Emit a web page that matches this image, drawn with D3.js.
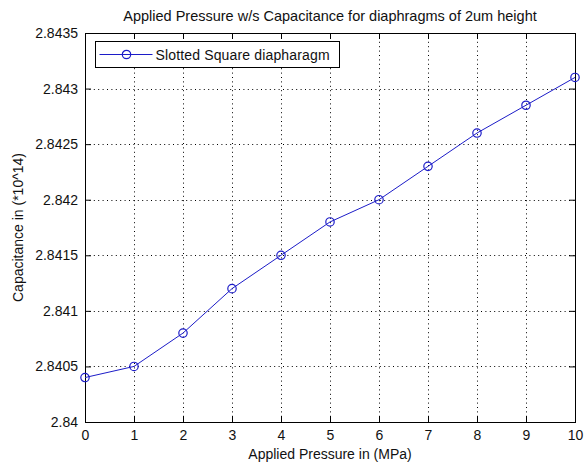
<!DOCTYPE html>
<html>
<head>
<meta charset="utf-8">
<script src="https://cdn.jsdelivr.net/npm/d3@7"></script>
<style>
  body { margin: 0; background: #fff; }
  svg text { font-family: "Liberation Sans", Arial, sans-serif; fill: #111; }
</style>
</head>
<body>
<div id="chart"></div>
<script>
// data
const pressure = [0, 1, 2, 3, 4, 5, 6, 7, 8, 9, 10];
const capacitance = [2.8404, 2.8405, 2.8408, 2.8412, 2.8415, 2.8418, 2.8420, 2.8423, 2.8426, 2.84285, 2.8431];
const xTicks = [0, 1, 2, 3, 4, 5, 6, 7, 8, 9, 10];
const yTicks = [2.84, 2.8405, 2.841, 2.8415, 2.842, 2.8425, 2.843, 2.8435];
const seriesName = "Slotted Square diapharagm";

const width = 587, height = 466;
const margin = { top: 33, right: 12, bottom: 44, left: 85 };
const innerW = width - margin.left - margin.right;
const innerH = height - margin.top - margin.bottom;
const lineColor = "#1c1cc8";

const svg = d3.select("#chart").append("svg")
  .attr("width", width)
  .attr("height", height);

const chart = svg.append("g")
  .attr("transform", `translate(${margin.left},${margin.top})`);

const x = d3.scaleLinear().domain([0, 10]).range([0, innerW]);
const y = d3.scaleLinear().domain([2.84, 2.8435]).range([innerH, 0]);

// dotted grid
chart.append("g")
  .selectAll("line")
  .data(xTicks.slice(1, -1))
  .join("line")
  .attr("x1", d => x(d) + 0.5).attr("x2", d => x(d) + 0.5)
  .attr("y1", 0).attr("y2", innerH)
  .attr("stroke", "#000").attr("stroke-width", 1)
  .attr("stroke-dasharray", "1,3.4");

chart.append("g")
  .selectAll("line")
  .data(yTicks.slice(1, -1))
  .join("line")
  .attr("y1", d => Math.round(y(d)) + 0.5).attr("y2", d => Math.round(y(d)) + 0.5)
  .attr("x1", 0).attr("x2", innerW)
  .attr("stroke", "#000").attr("stroke-width", 1)
  .attr("stroke-dasharray", "1,3.4");

// axes with inward ticks
const fmt = d => String(+d.toFixed(4));
chart.append("g")
  .attr("transform", `translate(0,${innerH})`)
  .call(d3.axisBottom(x).tickValues(xTicks).tickSizeInner(-6).tickSizeOuter(0).tickPadding(8));
chart.append("g")
  .call(d3.axisLeft(y).tickValues(yTicks).tickFormat(fmt).tickSizeInner(-6).tickSizeOuter(0).tickPadding(7));
chart.append("g")
  .call(d3.axisTop(x).tickValues(xTicks).tickSizeInner(-6).tickSizeOuter(0).tickFormat(""));
chart.append("g")
  .attr("transform", `translate(${innerW},0)`)
  .call(d3.axisRight(y).tickValues(yTicks).tickSizeInner(-6).tickSizeOuter(0).tickFormat(""));

chart.selectAll(".domain").remove();
chart.selectAll(".tick line").attr("stroke", "#000");
chart.selectAll(".tick text").attr("font-size", 14).attr("fill", "#111");

// box
chart.append("rect")
  .attr("x", 0.5).attr("y", 0.5)
  .attr("width", innerW).attr("height", innerH)
  .attr("fill", "none").attr("stroke", "#000").attr("stroke-width", 1);

// series
const line = d3.line()
  .x((d, i) => x(pressure[i]))
  .y(d => y(d));

chart.append("path")
  .datum(capacitance)
  .attr("d", line)
  .attr("fill", "none")
  .attr("stroke", lineColor)
  .attr("stroke-width", 1);

chart.append("g")
  .selectAll("circle")
  .data(capacitance)
  .join("circle")
  .attr("cx", (d, i) => x(pressure[i]))
  .attr("cy", d => y(d))
  .attr("r", 4.2)
  .attr("fill", "none")
  .attr("stroke", lineColor)
  .attr("stroke-width", 1.2);

// legend
const legend = chart.append("g").attr("transform", "translate(10.5,8.5)");
legend.append("rect")
  .attr("width", 244).attr("height", 26)
  .attr("fill", "#fff").attr("stroke", "#000");
legend.append("line")
  .attr("x1", 4).attr("x2", 57).attr("y1", 13).attr("y2", 13)
  .attr("stroke", lineColor);
legend.append("circle")
  .attr("cx", 31).attr("cy", 13).attr("r", 4.2)
  .attr("fill", "none").attr("stroke", lineColor).attr("stroke-width", 1.2);
legend.append("text")
  .attr("x", 60).attr("y", 18)
  .attr("font-size", 14)
  .attr("letter-spacing", 0.15)
  .text(seriesName);

// titles
svg.append("text")
  .attr("x", margin.left + innerW / 2).attr("y", 21)
  .attr("text-anchor", "middle")
  .attr("font-size", 14.5)
  .text("Applied Pressure w/s Capacitance for diaphragms of 2um height");

svg.append("text")
  .attr("x", margin.left + innerW / 2).attr("y", 459)
  .attr("text-anchor", "middle")
  .attr("font-size", 14)
  .text("Applied Pressure in (MPa)");

svg.append("text")
  .attr("transform", `translate(23,${margin.top + innerH / 2}) rotate(-90)`)
  .attr("text-anchor", "middle")
  .attr("font-size", 14)
  .text("Capacitance in (*10^14)");
</script>
</body>
</html>
